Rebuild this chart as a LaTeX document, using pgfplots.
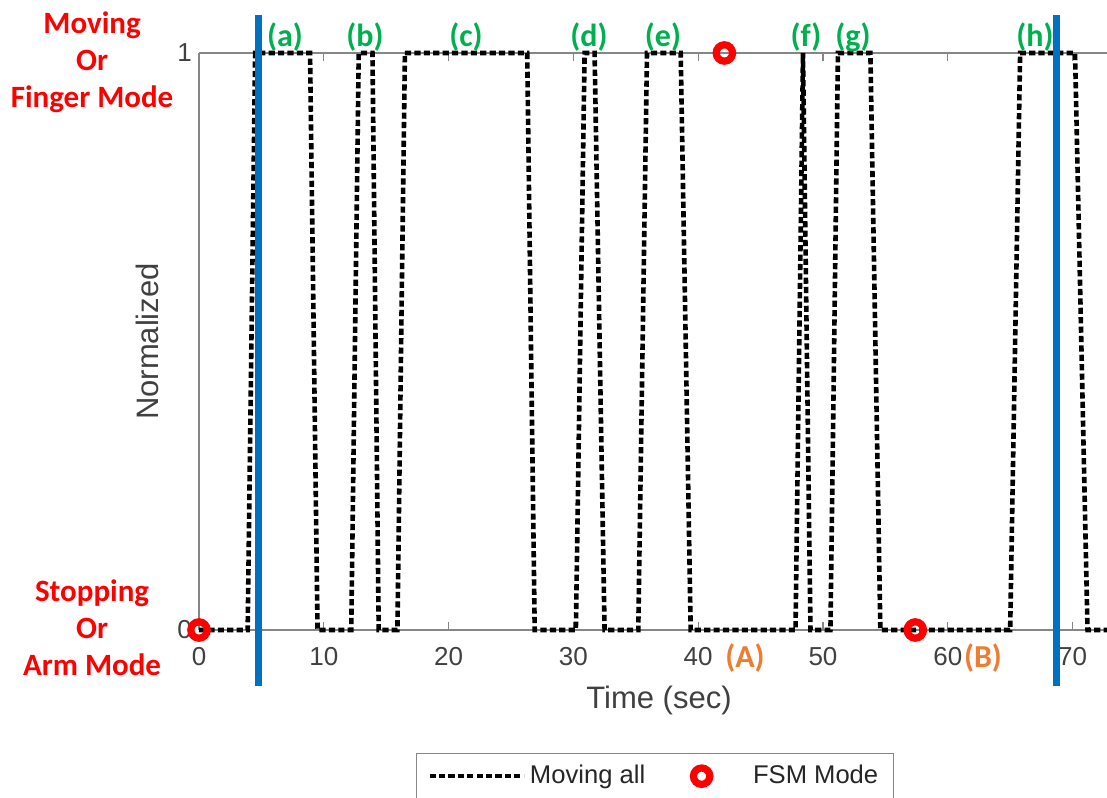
\documentclass[border=0pt]{standalone}
\usepackage{fontspec}
\setmainfont{Liberation Sans}
\newfontfamily\calibri{Carlito}
\usepackage{pgfplots}
\pgfplotsset{compat=1.18}
\definecolor{axgray}{RGB}{134,134,134}
\definecolor{txtgray}{RGB}{64,64,64}
\definecolor{mblue}{RGB}{0,112,192}
\definecolor{mgreen}{RGB}{0,176,80}
\definecolor{morange}{RGB}{237,125,49}
\pgfplotsset{
    lineleg/.style={legend image code/.code={\draw[##1] (0pt,0pt) -- (47pt,0pt);}},
    markleg/.style={legend image code/.code={\path (0pt,0pt) (47pt,0pt);
        \draw[##1] plot coordinates {(23.5pt,0pt)};}},
}

\begin{document}
\begin{tikzpicture}
\begin{axis}[
    scale only axis, width=454pt, height=288.5pt,
    xmin=0, xmax=72.76, ymin=0, ymax=1,
    axis x line*=box, axis y line*=left,
    axis line style={axgray, line width=0.6pt},
    xtick={0,10,...,70}, ytick={0,1},
    tick align=inside, major tick length=4pt,
    tick style={axgray, line width=0.6pt},
    ticklabel style={font=\fontsize{13}{15}\selectfont, text=txtgray},
    /pgf/number format/assume math mode=true,
    xticklabel style={yshift=-5pt},
    xlabel={Time (sec)}, ylabel={Normalized},
    label style={font=\fontsize{15.5}{18}\selectfont, text=txtgray},
    xlabel style={at={(axis description cs:0.5066,-0.1213)}, anchor=center},
    ylabel style={at={(axis description cs:-0.0573,0.5)}, anchor=center},
    clip=false,
    legend columns=-1,
    legend style={at={(axis description cs:0.502,-0.2132)}, anchor=north,
        draw=axgray, fill=white, text=black!85,
        font=\fontsize{12.8}{15}\selectfont,
        inner xsep=5.5pt, inner ysep=4pt,
        nodes={inner sep=2pt},
        /tikz/every even column/.append style={column sep=2.5pt}},
]
% moving signal
\addplot[black, line width=2.3pt, dash pattern=on 3.1pt off 1.6pt, lineleg]
coordinates {
(0,0)(3.9,0)(4.5,1)(8.9,1)(9.5,0)(12.2,0)(12.8,1)(13.9,1)(14.4,0)
(15.9,0)(16.5,1)(26.3,1)(26.9,0)(30.2,0)(30.9,1)(31.7,1)(32.5,0)
(35.2,0)(35.9,1)(38.6,1)(39.4,0)(47.8,0)(48.4,1)(49.0,0)(50.6,0)
(51.2,1)(53.8,1)(54.6,0)(65.0,0)(65.8,1)(70.2,1)(71.2,0)(72.76,0)
};
\addlegendentry{Moving all}
% separators
\addplot[mblue, line width=3.5pt, forget plot] coordinates {(4.73,-0.097)(4.73,1.066)};
\addplot[mblue, line width=3.5pt, forget plot] coordinates {(68.75,-0.097)(68.75,1.066)};
% FSM mode
\addplot[red, only marks, mark=o, mark size=4.1pt,
    mark options={line width=3.6pt}, markleg]
coordinates {(0,0)(42.1,1)(57.4,0)};
\addlegendentry{FSM Mode}

\begin{scope}[every node/.style={font=\calibri\bfseries\fontsize{16}{18}\selectfont, text=mgreen}]
\node at (axis cs:6.89,1.028) {(a)};
\node at (axis cs:13.30,1.028) {(b)};
\node at (axis cs:21.39,1.028) {(c)};
\node at (axis cs:31.25,1.028) {(d)};
\node at (axis cs:37.18,1.028) {(e)};
\node at (axis cs:48.64,1.028) {(f)};
\node at (axis cs:52.40,1.028) {(g)};
\node at (axis cs:66.99,1.028) {(h)};
\end{scope}
\begin{scope}[every node/.style={font=\calibri\bfseries\fontsize{16}{18}\selectfont, text=morange}]
\node at (axis cs:43.75,-0.0485) {(A)};
\node at (axis cs:62.82,-0.0485) {(B)};
\end{scope}
\begin{scope}[every node/.style={font=\calibri\bfseries\fontsize{15.5}{18.5}\selectfont, text=red, align=center}]
\node at (axis cs:-8.57,0.984) {Moving\\Or\\Finger Mode};
\node at (axis cs:-8.57,0.0035) {Stopping\\Or\\Arm Mode};
\end{scope}
\end{axis}
\pgfresetboundingbox
\useasboundingbox ([xshift=-99.5pt,yshift=-83.5pt]current axis.south west)
    rectangle ([yshift=26.5pt]current axis.north east);
\end{tikzpicture}
\end{document}
